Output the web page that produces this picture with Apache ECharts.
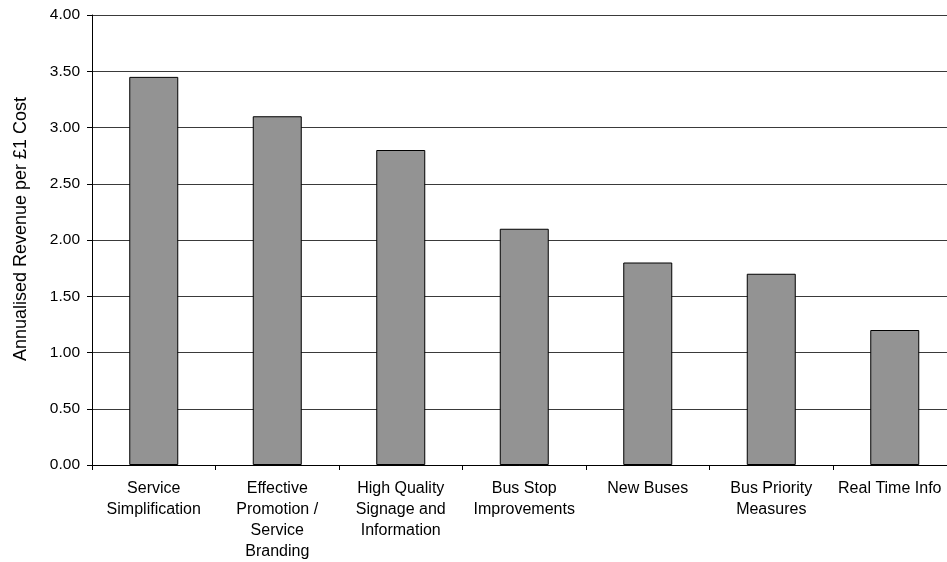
<!DOCTYPE html>
<html>
<head>
<meta charset="utf-8">
<script src="https://cdn.jsdelivr.net/npm/echarts@6/dist/echarts.min.js"></script>
<style>html,body{margin:0;padding:0;background:#fff;}#c{width:947px;height:562px;}</style>
</head>
<body>
<div id="c"></div>
<script>
const categories = [
  "Service\nSimplification",
  "Effective\nPromotion /\nService\nBranding",
  "High Quality\nSignage and\nInformation",
  "Bus Stop\nImprovements",
  "New Buses",
  "Bus Priority\nMeasures",
  "Real Time Info"
];
const revenuePerPound = [3.45, 3.10, 2.80, 2.10, 1.80, 1.70, 1.20];
const yTicks = { min: 0, max: 4, interval: 0.5 };
const yAxisTitle = "Annualised Revenue per £1 Cost";

const chart = echarts.init(document.getElementById('c'), null, { renderer: 'canvas' });
const font = "'Liberation Sans', Arial, sans-serif";
const lastIdx = categories.length - 1;
chart.setOption({
  animation: false,
  backgroundColor: '#ffffff',
  grid: { left: 92, right: -9.5, top: 15, bottom: 97, containLabel: false, outerBoundsMode: 'none' },
  xAxis: {
    type: 'category',
    data: categories,
    boundaryGap: true,
    axisLine: { show: true, lineStyle: { color: '#000', width: 1 } },
    axisTick: { show: true, length: 5, inside: false, lineStyle: { color: '#000' } },
    axisLabel: {
      interval: 0, margin: 13, color: '#000', fontFamily: font, fontSize: 16, lineHeight: 21, align: 'center',
      formatter: (v, i) => i === lastIdx ? '{last|' + v + '}' : v,
      rich: { last: { fontFamily: font, fontSize: 16, lineHeight: 21, color: '#000', padding: [0, 10, 0, 0] } }
    }
  },
  yAxis: {
    type: 'value',
    min: yTicks.min, max: yTicks.max, interval: yTicks.interval,
    name: yAxisTitle,
    nameLocation: 'middle',
    nameGap: 62,
    nameRotate: 90,
    nameTextStyle: { color: '#000', fontFamily: font, fontSize: 18, padding: [0, 0, 0, 22] },
    axisLine: { show: true, lineStyle: { color: '#000', width: 1 } },
    axisTick: { show: true, length: 5, lineStyle: { color: '#000' } },
    axisLabel: { margin: 12, color: '#000', fontFamily: font, fontSize: 15.5, formatter: v => v.toFixed(2) },
    splitLine: { show: true, lineStyle: { color: '#3a3a3a', width: 1 } }
  },
  series: [{
    type: 'bar',
    data: revenuePerPound,
    barWidth: 49,
    itemStyle: { color: '#939393', borderColor: '#000', borderWidth: 1 }
  }]
});
</script>
</body>
</html>
